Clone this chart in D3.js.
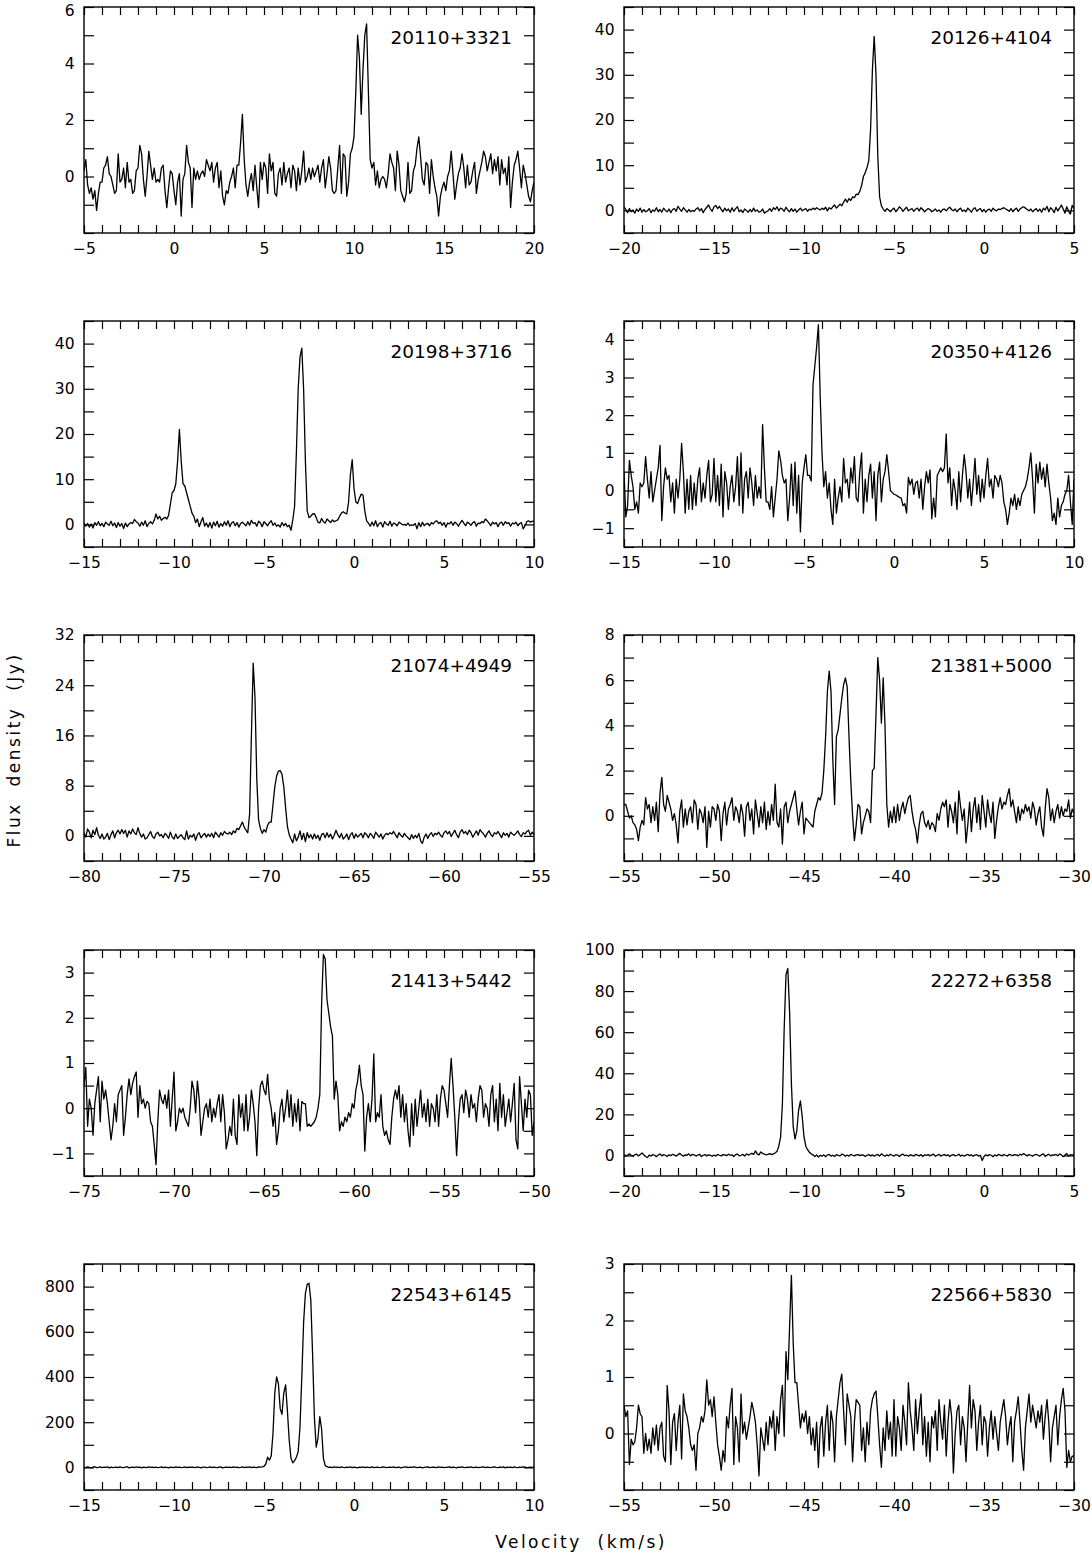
<!DOCTYPE html>
<html>
<head>
<meta charset="utf-8">
<script src="https://cdn.jsdelivr.net/npm/d3@7"></script>
<style>
  body { margin: 0; background: #fff; }
  svg text { font-family: "DejaVu Sans", sans-serif; fill: #000; }
</style>
</head>
<body>
<svg id="chart" width="1092" height="1555"></svg>
<script>
// ===== DATA =====
const sourceNames = ['20110+3321', '20126+4104', '20198+3716', '20350+4126', '21074+4949',
                     '21381+5000', '21413+5442', '22272+6358', '22543+6145', '22566+5830'];
const velocityStart = [-5, -20, -15, -15, -80, -55, -75, -20, -15, -55];
const velocitySpan = 25;
const channelWidth = 0.1;
const fluxMin = [-2, -5, -5, -1.5, -4, -2, -1.5, -10, -100, -1];
const fluxMax = [6, 45, 45, 4.5, 32, 8, 3.5, 100, 900, 3];
const fluxLabelStep = [2, 10, 10, 1, 8, 2, 1, 20, 200, 1];
const fluxTickStep = [1, 5, 5, 0.5, 4, 1, 0.5, 10, 100, 0.5];

// flux density (Jy), one value per 0.1 km/s channel from velocityStart
const flux20110 = [
  0.2,0.6,-0.3,-0.6,-0.4,-0.8,-0.5,-1.2,-0.6,-0.2,
  -0.2,0.3,0.4,0.7,0.1,0.0,-0.3,-0.6,-0.5,0.8,
  -0.2,-0.1,0.3,-0.4,0.5,-0.2,-0.1,-0.6,-0.5,0.2,
  0.3,1.1,0.8,-0.1,-0.7,0.0,0.9,0.4,-0.1,0.3,
  -0.2,-0.1,-0.2,0.3,0.4,-0.5,-1.1,-0.4,0.2,0.1,
  -0.5,-1.0,-0.2,0.1,-1.4,-0.1,0.1,1.1,0.5,0.3,
  -1.1,0.3,-0.1,0.2,-0.1,0.1,0.2,0.0,0.6,0.4,
  0.2,0.5,-0.2,0.3,0.5,-0.4,0.2,-0.7,-1.0,-0.5,
  -0.6,-0.2,0.0,0.3,-0.4,0.4,0.4,1.2,2.2,0.6,
  -0.3,-0.7,-0.2,0.1,-0.5,0.4,-0.4,-1.1,0.5,-0.1,
  0.5,0.3,-0.6,0.8,0.2,0.5,-0.6,-0.7,0.1,0.3,
  -0.3,0.5,-0.2,0.1,0.3,-0.4,0.4,0.2,-0.5,0.3,
  -0.3,0.2,0.9,-0.2,0.0,0.3,-0.1,0.3,0.0,0.2,
  0.4,-0.2,0.3,0.6,-0.4,0.1,0.7,0.3,-0.5,-0.6,
  -0.5,0.3,1.1,-0.6,0.8,0.7,-0.7,-0.2,0.8,1.0,
  1.4,3.0,5.0,4.2,2.2,3.8,5.0,5.4,3.0,0.6,
  0.3,0.5,-0.3,0.2,-0.4,-0.1,0.0,-0.1,-0.4,0.1,
  0.8,0.5,0.3,-0.5,0.9,0.4,-0.5,-0.7,-0.9,-0.6,
  0.5,-0.6,-0.5,0.2,0.4,1.0,1.4,0.7,-0.1,-0.3,
  0.5,0.4,-0.6,0.6,0.0,-0.4,-0.7,-1.4,-0.7,-0.4,
  -0.2,-0.5,0.0,0.2,0.9,0.1,-0.8,-0.3,0.1,0.3,
  0.8,0.3,-0.4,0.4,-0.3,-0.2,0.2,0.5,-0.6,-0.1,
  0.2,0.5,0.9,0.7,0.2,0.5,0.8,0.1,0.6,0.2,
  0.7,-0.3,0.6,0.1,0.3,-0.3,0.7,-1.1,-0.2,0.4,
  0.6,0.9,0.3,-0.4,0.4,0.1,-0.3,-0.7,-0.9,-0.5,
  -0.2];

const flux20126 = [
  0.8,0.2,-0.5,0.4,-0.3,0.1,-0.6,0.3,-0.2,0.5,
  -0.4,0.2,-0.3,-0.1,0.4,-0.5,0.1,-0.2,0.6,-0.3,
  0.2,-0.4,0.5,0.0,-0.3,0.3,-0.5,0.2,0.4,-0.2,
  0.9,0.3,-0.2,0.6,0.1,-0.4,0.2,-0.3,0.0,-0.2,
  0.3,0.6,-0.1,0.4,-0.5,0.2,0.7,1.2,0.3,-0.2,
  0.8,1.1,0.4,0.9,0.2,-0.3,0.5,-0.1,0.3,-0.4,
  0.6,-0.2,0.4,0.8,-0.3,0.1,-0.5,0.3,0.0,-0.4,
  0.2,-0.3,0.5,-0.2,0.1,-0.4,-0.2,0.3,-0.6,-0.3,
  -0.1,0.4,-0.2,0.6,0.2,0.8,-0.1,0.5,0.3,-0.2,
  0.7,0.1,-0.3,0.4,-0.2,0.3,-0.4,0.1,0.5,-0.1,
  0.2,0.4,-0.2,0.3,0.1,0.5,0.2,0.6,0.3,0.1,
  0.5,0.2,0.7,-0.1,0.6,0.3,0.8,1.2,0.5,0.9,
  1.4,1.0,1.8,2.5,1.8,2.6,2.2,3.0,2.8,3.6,
  3.5,4.2,5.5,7.5,8.3,9.5,11,18,31,38.5,
  30,12,3,1.0,0.3,-0.2,0.4,0.1,-0.3,0.2,
  0.5,-0.3,0.2,0.8,0.4,-0.2,0.3,0.7,-0.1,0.2,
  0.4,-0.2,0.3,0.5,-0.1,0.6,0.2,-0.3,0.1,0.4,
  0.2,-0.3,0.0,0.3,-0.2,0.1,-0.4,0.2,0.3,-0.1,
  0.4,0.7,0.2,-0.1,0.3,-0.3,0.2,0.5,-0.2,0.1,
  -0.3,0.5,0.1,-0.4,0.3,0.6,-0.2,0.2,0.4,-0.3,
  0.2,-0.4,0.1,0.3,-0.2,0.5,0.1,-0.1,0.3,0.2,
  0.4,0.6,0.3,0.1,-0.2,0.4,-0.3,0.2,0.5,-0.2,
  0.3,0.6,0.8,0.5,0.2,-0.1,0.3,-0.3,0.1,0.4,
  -0.2,0.3,-0.4,0.5,0.1,0.9,-0.3,0.6,0.2,-0.5,
  0.7,-0.1,0.5,1.2,0.3,-0.6,0.8,-0.2,-0.8,1.1,
  0.4];

const flux20198 = [
  0.3,-0.4,0.2,-0.6,0.1,-0.8,0.4,-0.2,0.6,-0.3,
  0.2,-0.5,0.5,0.1,-0.2,0.7,-0.3,0.3,-0.7,0.4,
  -0.4,0.2,-0.9,0.3,-0.5,0.1,0.4,0.2,1.1,0.6,
  0.3,-0.4,0.5,-0.2,0.8,-0.5,0.2,0.6,0.1,0.9,
  2.3,1.2,1.8,0.9,1.3,1.6,1.2,2.0,4.5,7.0,
  7.5,9.0,14,21,14,9.0,8.5,7.0,5.5,4.0,
  2.5,1.8,0.4,1.2,-0.5,0.6,1.5,-0.4,0.3,-0.6,
  0.4,-0.8,0.5,-0.3,0.7,-0.6,0.2,-0.4,0.6,-0.2,
  0.8,-0.5,0.3,0.6,-0.3,0.4,-0.6,0.2,0.5,0.1,
  -0.3,0.6,-0.2,0.9,0.2,0.4,-0.4,0.7,0.3,-0.5,
  0.6,0.2,-0.3,0.4,0.8,-0.2,0.3,-0.4,-0.1,-0.6,
  0.4,-0.3,0.2,-0.5,-0.2,-1.3,1.0,4.0,16,30,
  37,39,30,14,3,1.5,1.8,2.3,2.4,1.5,
  0.5,0.3,1.3,0.6,0.3,1.2,0.8,0.4,1.0,0.6,
  0.8,1.0,1.8,2.5,2.8,2.5,2.3,5.0,11,14.3,
  8,5,4.6,5.8,6.7,6.5,3,0.8,0.3,-0.4,
  0.5,-0.3,0.8,-0.5,0.2,0.4,-0.6,0.6,0.1,-0.2,
  0.7,-0.4,0.3,0.1,-0.3,0.5,0.2,-0.1,0.0,-0.2,
  0.3,-0.3,-0.1,-0.2,0.2,-1.0,0.4,-0.5,0.5,-0.3,
  0.1,0.2,-0.3,0.4,0.1,0.6,0.8,0.2,0.5,-0.2,
  0.4,-0.6,0.3,0.1,0.6,-0.2,0.5,0.2,-0.4,0.3,
  0.9,0.3,-0.3,0.5,0.2,-0.2,0.4,0.6,-0.4,0.3,
  0.2,0.6,0.4,1.2,0.8,0.3,-0.3,0.5,0.1,0.4,
  -0.5,0.3,0.5,-0.2,0.6,0.2,0.4,-0.4,0.3,0.1,
  0.5,-0.3,0.2,0.4,-1.0,-0.3,0.6,0.8,0.5,0.7,
  0.6];

const flux20350 = [
  0.5,-0.7,-0.4,0.8,0.4,0.1,-0.5,-0.3,-0.6,0.2,
  0.1,0.2,0.9,0.3,-0.2,0.5,-0.3,0.0,0.3,0.6,
  1.2,-0.8,0.1,0.6,0.3,0.4,-0.3,0.2,-0.6,0.3,
  -0.2,0.3,1.25,0.5,-0.6,0.3,-0.5,0.4,-0.5,0.2,
  -0.4,0.3,0.6,-0.3,0.2,-0.2,0.4,0.8,-0.3,-0.1,
  0.85,-0.3,0.4,-0.4,0.7,-0.7,0.5,0.2,-0.5,0.1,
  0.4,-0.3,0.1,0.9,-0.4,1.0,-0.6,0.3,0.5,-0.2,
  0.6,0.2,-0.4,0.4,-0.2,0.1,-0.2,1.75,0.6,-0.3,
  -0.3,-0.5,0.1,-0.7,-0.2,0.3,1.05,0.8,0.4,0.2,
  0.3,-0.8,-0.2,0.7,-0.4,0.75,-0.6,0.4,-1.1,0.2,
  0.6,0.95,0.4,0.4,0.25,2.8,3.3,3.8,4.4,2.5,
  1.0,0.1,0.5,-0.2,0.2,-0.5,-0.9,0.3,-0.6,-0.2,
  0.1,-0.3,0.85,0.2,0.3,-0.2,0.6,0.2,0.9,-0.2,
  -0.3,0.5,1.0,-0.6,0.3,-0.3,0.4,0.7,-0.2,0.5,
  -0.8,0.4,0.75,-0.3,0.3,0.5,0.95,0.5,0.0,-0.05,
  -0.1,-0.12,-0.15,-0.18,-0.2,-0.4,-0.35,-0.6,0.35,0.15,
  0.3,-0.1,0.2,0.25,-0.2,0.3,-0.5,0.1,0.5,0.2,
  0.55,-0.75,-0.2,-0.7,0.4,0.5,0.6,0.5,0.6,1.5,
  0.2,0.6,-0.4,0.3,0.0,-0.5,0.5,-0.3,0.4,0.95,
  0.5,-0.2,0.3,-0.4,0.2,0.85,-0.1,0.4,-0.3,0.3,
  -0.2,0.4,0.85,0.1,0.3,-0.2,0.4,0.3,0.1,0.4,
  0.2,-0.3,-0.5,-0.9,-0.6,-0.2,-0.4,-0.1,-0.5,-0.2,
  -0.4,-0.1,0.0,0.1,0.3,0.6,1.0,0.3,-0.6,0.7,
  0.2,0.75,0.3,0.6,0.1,0.7,0.2,-0.2,-0.8,-0.6,
  -0.9,-0.2,-0.7,-0.4,-0.3,-0.1,0.0,0.4,-0.3,-0.9,
  0.3];

const flux21074 = [
  0.5,-0.2,1.1,0.6,-0.3,0.9,0.2,1.3,0.1,-0.4,
  0.3,-0.5,-0.2,0.4,-0.6,0.2,0.8,-0.3,0.5,0.9,
  0.3,1.0,0.4,0.9,-0.2,0.8,0.3,1.1,0.5,0.2,
  1.3,0.4,-0.2,0.3,-0.5,-0.3,0.2,0.7,-0.1,-0.4,
  0.3,0.6,0.0,0.2,-0.3,0.4,0.1,-0.4,0.6,-0.2,
  -0.5,0.3,-0.4,-0.1,0.2,-0.3,-0.6,0.8,-0.5,0.1,
  -0.2,0.3,-0.7,0.2,0.5,-0.3,0.1,0.4,-0.2,0.3,
  -0.1,0.4,-0.3,0.6,0.2,-0.2,0.5,0.1,0.7,0.4,
  0.3,0.6,0.2,0.8,0.5,1.2,1.0,1.6,2.2,1.4,
  0.9,0.5,3.5,16,27.5,22,9,2.5,1.2,0.4,
  1.0,0.6,1.7,2.2,2.2,5,7.8,9.5,10.3,10.4,
  9.8,7.8,4.5,1.5,0.2,-0.5,-1.1,0.3,-0.8,-0.2,
  0.8,-0.6,0.4,-0.9,0.5,-0.3,0.2,-0.5,0.3,-0.4,
  0.1,-0.7,0.2,0.4,-0.3,0.5,-0.2,0.3,-0.5,0.1,
  0.9,0.2,-0.3,0.4,-0.5,-0.2,0.3,-0.6,0.2,0.5,
  -0.4,0.3,-0.2,0.1,0.4,-0.3,0.5,0.2,-0.3,0.4,
  0.1,-0.4,0.6,0.2,-0.2,0.3,-0.5,0.1,0.4,0.2,
  0.5,0.3,0.7,0.2,-0.3,0.5,0.1,-0.2,0.4,0.0,
  -0.3,-0.6,0.2,-0.4,0.1,-0.3,0.4,-0.8,-1.2,-0.2,
  0.3,-0.4,0.2,0.5,-0.1,0.4,0.2,0.6,0.1,-0.2,
  0.5,0.8,0.3,0.7,-0.1,0.4,0.9,0.2,-0.3,0.6,
  1.0,0.4,0.7,0.2,0.9,0.5,-0.2,0.3,0.8,0.1,
  1.0,0.6,0.3,-0.2,0.4,0.8,0.2,-0.1,0.5,0.3,
  0.7,0.2,-0.3,0.5,0.1,0.4,-0.2,0.6,0.3,0.1,
  0.4,0.8,0.2,-0.1,0.5,0.3,0.7,0.9,0.1,0.6,
  0.2];

const flux21381 = [
  0.5,0.5,0.2,-0.1,0.0,-0.3,-0.4,-0.6,-1.1,-0.5,
  -0.2,-0.4,0.8,0.3,0.5,-0.3,0.4,-0.2,0.6,-0.7,
  1.0,1.7,0.5,0.2,0.9,0.6,0.3,-0.2,0.1,-0.4,
  -1.2,0.2,0.7,-0.5,0.3,-0.4,0.2,0.4,-0.3,0.7,
  0.5,-0.6,0.3,0.1,-0.3,0.4,-1.4,0.2,-0.5,0.4,
  0.3,-0.2,0.5,0.2,-1.1,0.1,0.6,-0.4,0.3,0.5,
  0.8,-0.2,0.4,0.2,-0.3,0.5,0.1,-0.9,0.4,0.6,
  -0.2,0.3,-0.8,0.7,0.1,-0.5,0.4,-0.3,0.6,-0.6,
  0.2,-0.4,0.5,-0.2,1.4,-0.3,-0.5,0.3,-1.25,0.4,
  0.6,-0.3,0.2,0.5,0.8,1.1,0.3,-0.4,0.2,0.6,
  -0.8,-0.1,-0.2,-0.3,-0.4,-0.5,0.2,0.5,0.8,0.7,
  1.0,2.0,3.5,5.5,6.4,5.5,2.5,0.5,3.5,3.8,
  4.5,5.2,5.8,6.1,5.7,3.5,1.5,0.0,-1.1,-0.4,
  0.5,0.4,-0.8,-0.3,0.0,0.3,0.2,-0.3,2.0,2.1,
  4.5,7.0,6.0,4.1,6.1,4.0,0.5,-0.5,0.2,-0.3,
  0.4,-0.3,0.5,-0.2,0.3,0.6,0.1,0.5,0.8,0.9,
  0.2,-0.3,-0.6,-1.2,-0.4,0.1,0.2,-0.3,-0.5,-0.2,
  -0.6,-0.3,-0.4,-0.7,0.1,-0.2,0.3,0.6,0.4,0.7,
  -0.5,0.5,0.2,-0.3,0.6,-0.8,1.1,0.4,-0.2,0.3,
  -1.2,-0.4,0.6,-0.7,0.3,0.8,-0.3,0.5,-0.6,0.9,
  0.2,-0.5,0.7,0.1,-0.3,0.6,-1.0,-0.2,0.4,0.8,
  0.3,0.6,0.5,0.9,1.2,0.4,0.7,0.2,-0.3,0.4,
  -0.2,0.3,0.1,0.5,0.2,0.4,-0.1,0.6,0.3,-0.4,
  0.1,0.4,-0.5,-0.9,0.3,1.2,0.8,-0.2,0.3,-0.3,
  0.2,0.5,-0.1,0.4,0.0,0.3,0.2,0.7,-0.1,0.3,
  0.1];

const flux21413 = [
  0.5,0.9,-0.4,0.2,0.0,-0.6,0.1,0.4,0.7,-0.3,
  0.6,0.2,0.4,0.1,-0.3,-0.7,-0.4,0.1,-0.3,0.3,
  0.4,0.5,-0.6,-0.2,0.3,0.65,0.3,0.55,0.7,0.8,
  -0.2,0.5,0.1,0.2,0.0,0.15,0.1,-0.3,-0.4,-0.8,
  -1.25,-0.3,0.4,0.2,0.1,0.3,0.0,0.4,-0.4,0.2,
  0.8,-0.5,-0.3,0.0,-0.1,0.0,-0.2,-0.3,-0.4,0.0,
  0.6,0.4,-0.1,0.6,0.2,-0.6,-0.3,0.0,0.1,-0.2,
  0.2,-0.3,0.0,-0.2,0.1,0.3,-0.3,0.3,-0.1,-0.9,
  -0.7,-0.4,-0.6,0.2,-0.6,-0.8,0.3,-0.2,0.1,-0.5,
  0.3,-0.5,-0.2,0.4,0.1,-0.3,-1.05,0.0,0.5,0.6,
  0.4,0.3,0.75,0.2,0.0,-0.4,-0.1,-0.8,-0.5,0.0,
  0.2,-0.3,0.0,0.4,-0.2,0.3,-0.4,0.1,-0.3,0.2,
  -0.5,0.15,0.1,0.1,-0.4,-0.35,-0.4,-0.35,-0.3,-0.2,
  0.0,0.3,2.3,3.4,3.3,2.4,2.1,1.8,1.6,0.2,
  0.6,0.3,-0.5,-0.3,-0.4,-0.2,-0.3,-0.1,-0.2,0.1,
  0.0,0.4,0.6,0.95,0.5,0.3,-0.95,-0.2,0.1,-0.3,
  0.2,1.2,-0.3,-0.1,-0.2,0.3,-0.4,-0.6,-0.5,-0.7,
  -0.8,-0.2,0.2,0.4,0.2,0.5,-0.2,0.3,-0.3,0.1,
  -0.5,-0.85,0.1,-0.6,0.2,-0.4,0.0,0.4,-0.2,0.1,
  -0.3,0.2,-0.4,0.1,0.0,-0.3,0.3,-0.4,0.2,0.5,
  0.4,0.1,-0.2,0.5,1.1,0.5,-0.2,-1.05,-0.3,0.2,
  0.3,-0.1,0.4,0.2,-0.2,0.3,0.0,0.1,-0.3,0.2,
  0.5,0.4,-0.2,0.1,0.0,-0.4,0.3,0.5,-0.3,0.2,
  -0.5,0.55,-0.2,0.3,-0.4,-0.1,0.2,-0.3,0.1,0.55,
  -0.7,-0.9,0.7,0.1,-0.5,0.2,-0.2,0.4,0.3,-0.6,
  -0.3];

const flux22272 = [
  0.5,-0.3,0.2,0.8,0.1,-0.4,0.3,0.6,-0.2,0.4,
  1.2,0.3,-0.5,-1.0,0.2,-0.3,0.4,0.1,-0.6,0.3,
  0.7,-0.2,0.4,0.1,-0.5,0.3,-0.1,0.6,0.2,-0.3,
  0.4,1.0,0.2,-0.4,0.3,0.1,0.8,-0.2,0.5,0.3,
  -0.3,0.2,0.6,-0.5,0.1,0.4,-0.2,0.3,0.0,-0.4,
  0.2,-0.3,0.5,0.1,-0.2,0.4,0.3,-0.1,0.6,0.2,
  0.3,-0.5,0.4,0.7,-0.2,0.1,0.5,-0.3,0.8,0.2,
  0.6,1.0,0.5,2.2,0.8,0.3,1.7,1.0,0.6,0.3,
  0.5,0.9,0.4,0.8,1.2,2.0,4.5,9,25,62,
  88,91,70,35,14,8,12,22,26.5,19,
  9,4.5,2.8,1.5,0.8,0.3,-0.5,0.2,-0.8,0.1,
  -0.4,0.3,-0.6,0.2,0.5,-0.3,0.1,-0.5,0.4,0.0,
  -0.2,0.6,0.3,-0.4,0.2,-0.3,0.5,0.1,-0.2,0.3,
  0.4,-0.1,0.3,0.2,-0.5,0.1,0.4,-0.2,0.3,-0.4,
  0.2,0.5,-0.3,0.8,0.1,-0.4,0.3,-0.2,0.6,0.1,
  -0.3,0.4,0.2,-0.5,0.3,0.6,-0.1,0.2,-0.4,0.3,
  0.1,-0.3,0.5,0.2,-0.2,0.4,-0.5,0.3,0.0,0.4,
  -0.2,0.3,0.6,-0.4,0.1,0.5,-0.3,0.2,0.4,-0.1,
  0.3,-0.5,0.2,0.4,-0.2,0.1,0.6,-0.3,0.2,-0.4,
  0.2,0.5,-0.1,0.3,-0.4,0.2,0.4,-0.3,0.1,-2.5,
  -0.5,0.3,-0.2,0.4,0.1,-0.6,0.3,-0.3,0.5,0.2,
  -0.2,0.4,0.1,-0.3,0.5,0.2,-0.1,0.4,0.3,-0.2,
  0.6,0.2,0.9,0.3,-0.2,0.4,0.1,-0.4,0.3,0.5,
  0.1,-0.3,0.4,0.8,-0.5,0.2,0.6,-0.2,0.3,0.1,
  0.5,-0.2,0.7,0.3,-0.6,0.2,0.9,-0.3,0.4,0.2,
  0.6];

const flux22543 = [
  1,-1,2,0,-2,1,3,-1,0,2,
  -1,1,0,2,-2,1,-1,0,1,-1,
  2,0,-1,1,3,-2,0,1,-1,2,
  0,1,-2,1,0,-1,2,0,1,-1,
  1,-1,0,2,-1,1,0,-2,1,0,
  -1,2,0,1,-1,0,2,-1,1,0,
  1,0,-1,2,0,-2,1,1,-1,0,
  2,-1,1,0,-1,1,2,-2,0,1,
  0,1,-1,2,0,1,-1,0,2,-1,
  1,0,2,-1,1,0,-1,2,1,2,
  5,15,45,32,50,150,330,400,370,260,
  235,330,365,250,120,40,20,30,45,70,
  180,400,640,770,810,815,740,500,220,90,
  130,225,170,40,8,3,0,1,-1,2,
  0,1,-1,2,0,-1,1,0,2,-1,
  1,0,-2,1,0,2,-1,1,0,-1,
  2,-1,0,1,-1,0,2,1,-1,0,
  1,0,2,-1,0,1,-2,0,1,2,
  -1,1,0,2,1,-1,0,1,-2,0,
  1,2,-1,0,1,0,-1,2,0,1,
  -1,0,1,2,-1,1,0,-2,1,0,
  2,0,-1,1,0,2,-1,0,1,-1,
  0,1,2,-1,1,0,-1,1,2,0,
  -1,1,0,2,-2,1,0,1,-1,2,
  0,-1,1,0,2,1,-1,0,1,0,
  1];

const flux22566 = [
  0.5,0.3,0.4,-0.55,-0.1,-0.2,-0.15,0.1,0.5,0.35,
  0.3,-0.35,0.0,-0.3,-0.1,-0.35,0.1,-0.2,0.15,-0.3,
  0.1,0.2,-0.4,-0.5,0.85,0.4,-0.55,0.2,0.35,-0.3,
  0.2,0.5,-0.45,0.7,0.4,0.3,0.1,-0.2,-0.3,-0.2,
  -0.65,0.0,0.1,0.3,0.2,0.4,0.95,0.5,0.6,0.3,
  0.65,0.2,-0.2,-0.4,-0.65,-0.3,-0.5,0.3,0.1,0.5,
  0.8,-0.55,0.3,0.1,-0.5,0.7,0.0,0.2,-0.1,0.1,
  0.3,0.55,0.4,0.2,-0.2,-0.75,0.1,-0.1,-0.3,0.2,
  -0.2,0.3,0.1,0.4,-0.3,0.3,0.0,0.6,0.85,-0.05,
  1.45,0.95,1.9,2.8,1.6,0.9,0.9,0.5,0.1,0.35,
  0.2,0.4,0.0,0.3,-0.2,0.1,-0.3,0.2,-0.6,0.1,
  0.3,-0.4,0.2,0.5,-0.3,0.4,0.2,-0.5,0.3,0.6,
  0.9,1.05,0.4,-0.2,0.7,0.5,0.3,-0.5,0.2,0.6,
  0.55,0.5,-0.3,0.1,-0.5,0.2,-0.2,0.4,0.6,0.7,
  0.75,0.3,-0.2,-0.6,0.1,-0.3,0.4,-0.1,0.2,-0.4,
  0.6,-0.4,0.3,0.1,-0.3,0.5,0.2,-0.2,0.9,0.4,
  0.1,-0.3,0.6,0.0,0.4,0.7,-0.2,0.3,-0.4,0.2,
  -0.5,0.3,0.1,0.4,-0.3,0.6,0.2,-0.1,0.5,-0.4,
  0.2,0.6,0.3,-0.7,0.0,0.4,0.5,-0.2,0.3,0.1,
  -0.5,0.2,0.85,0.1,0.6,0.4,-0.3,0.2,0.5,-0.2,
  0.3,0.2,-0.4,0.1,0.4,-0.1,0.3,0.0,-0.3,0.2,
  0.4,0.6,0.3,-0.2,0.1,0.3,-0.5,0.2,0.4,0.65,
  0.2,-0.3,-0.65,0.1,0.4,0.7,0.2,0.5,0.3,0.1,
  0.4,0.2,0.5,-0.1,0.3,0.6,0.2,-0.5,0.1,0.3,
  0.5,-0.2,0.3,0.6,0.8,0.4,-0.6,-0.3,-0.5,-0.4,
  -0.4];

const fluxSeries = [flux20110, flux20126, flux20198, flux20350, flux21074,
                    flux21381, flux21413, flux22272, flux22543, flux22566];

// ===== LAYOUT =====
const columnLeft = [84, 624];
const rowTop = [7, 321, 635, 950, 1264];
const panelWidth = 450;
const panelHeight = 226;

const svg = d3.select('#chart');
const fmt = d3.format('d');

function isMultiple(v, step) {
    return Math.abs(v / step - Math.round(v / step)) < 1e-6;
}

function tickRange(lo, hi, step) {
    const out = [];
    for (let k = Math.ceil(lo / step - 1e-9); k * step <= hi + 1e-9; k++) {
        out.push(+(k * step).toFixed(6));
    }
    return out;
}

function styleAxis(sel) {
    sel.select('.domain').remove();
    sel.selectAll('.tick line').attr('stroke', '#000').attr('stroke-width', 1.2);
    sel.selectAll('.tick text')
        .attr('fill', '#000')
        .style('font-family', '"DejaVu Sans", sans-serif')
        .style('font-size', '15.5px');
}

fluxSeries.forEach((flux, i) => {
    const row = Math.floor(i / 2);
    const left = columnLeft[i % 2];
    const top = rowTop[row];
    const v0 = velocityStart[i];

    const x = d3.scaleLinear().domain([v0, v0 + velocitySpan]).range([0, panelWidth]);
    const y = d3.scaleLinear().domain([fluxMin[i], fluxMax[i]]).range([panelHeight, 0]);

    const g = svg.append('g').attr('transform', `translate(${left},${top})`);

    // clip
    const clipId = `clip-${i}`;
    g.append('clipPath').attr('id', clipId)
        .append('rect').attr('width', panelWidth).attr('height', panelHeight);

    // ticks
    const xTicks = tickRange(v0, v0 + velocitySpan, 1);
    const yTicks = tickRange(fluxMin[i], fluxMax[i], fluxTickStep[i]);
    const yLabel = v => (isMultiple(v, fluxLabelStep[i]) && v > fluxMin[i] + 1e-9) ? fmt(v) : '';

    g.append('g')
        .attr('transform', `translate(0,${panelHeight})`)
        .call(d3.axisBottom(x).tickValues(xTicks).tickSize(-8).tickPadding(9.5)
            .tickFormat(v => isMultiple(v, 5) ? fmt(v) : ''))
        .call(styleAxis);

    g.append('g')
        .call(d3.axisTop(x).tickValues(xTicks).tickSize(-8).tickFormat(''))
        .call(styleAxis);

    const leftAxis = g.append('g')
        .call(d3.axisLeft(y).tickValues(yTicks).tickSize(-10).tickPadding(9.5).tickFormat(yLabel))
        .call(styleAxis);

    // keep the top-edge label of the first row inside the page
    if (row === 0) {
        leftAxis.selectAll('.tick text')
            .filter(v => Math.abs(v - fluxMax[i]) < 1e-9)
            .attr('dy', '0.55em');
    }

    g.append('g')
        .attr('transform', `translate(${panelWidth},0)`)
        .call(d3.axisRight(y).tickValues(yTicks).tickSize(-10).tickFormat(''))
        .call(styleAxis);

    // spectrum
    const line = d3.line()
        .x((d, k) => x(v0 + k * channelWidth))
        .y(d => y(d));

    g.append('path')
        .datum(flux)
        .attr('clip-path', `url(#${clipId})`)
        .attr('d', line)
        .attr('fill', 'none')
        .attr('stroke', '#000')
        .attr('stroke-width', 1.3)
        .attr('stroke-linejoin', 'round');

    // frame
    g.append('rect')
        .attr('width', panelWidth)
        .attr('height', panelHeight)
        .attr('fill', 'none')
        .attr('stroke', '#000')
        .attr('stroke-width', 1.4);

    // source name
    g.append('text')
        .attr('x', panelWidth - 22)
        .attr('y', 37)
        .attr('text-anchor', 'end')
        .style('font-size', '18.5px')
        .text(sourceNames[i]);
});

// axis titles
svg.append('text')
    .attr('x', 581)
    .attr('y', 1548)
    .attr('text-anchor', 'middle')
    .style('font-size', '17px')
    .style('letter-spacing', '2.5px')
    .style('white-space', 'pre')
    .text('Velocity  (km/s)');

svg.append('text')
    .attr('transform', 'translate(20,750) rotate(-90)')
    .attr('text-anchor', 'middle')
    .style('font-size', '17px')
    .style('letter-spacing', '2.5px')
    .style('white-space', 'pre')
    .text('Flux  density  (Jy)');
</script>
</body>
</html>
